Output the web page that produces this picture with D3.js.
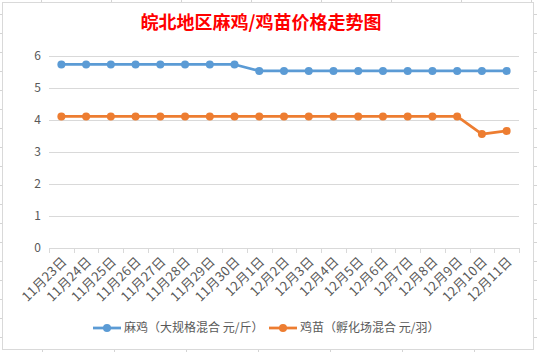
<!DOCTYPE html>
<html>
<head>
<meta charset="utf-8">
<script src="https://cdn.jsdelivr.net/npm/d3@7"></script>
<style>
  body { margin: 0; background: #fff; }
  text { font-family: "Noto Sans CJK SC", "Noto Sans", sans-serif; }
</style>
</head>
<body>
<div id="chart"></div>
<script>
// data
var dates = ["11月23日", "11月24日", "11月25日", "11月26日", "11月27日", "11月28日", "11月29日", "11月30日",
             "12月1日", "12月2日", "12月3日", "12月4日", "12月5日", "12月6日", "12月7日", "12月8日",
             "12月9日", "12月10日", "12月11日"];
var maji = [5.72, 5.72, 5.72, 5.72, 5.72, 5.72, 5.72, 5.72,
            5.52, 5.52, 5.52, 5.52, 5.52, 5.52, 5.52, 5.52, 5.52, 5.52, 5.52];
var jimiao = [4.1, 4.1, 4.1, 4.1, 4.1, 4.1, 4.1, 4.1,
              4.1, 4.1, 4.1, 4.1, 4.1, 4.1, 4.1, 4.1, 4.1, 3.55, 3.65];
var yTicks = [0, 1, 2, 3, 4, 5, 6];
var seriesNames = ["麻鸡（大规格混合 元/斤）", "鸡苗（孵化场混合 元/羽）"];
var colors = ["#5b9bd5", "#ed7d31"];

var W = 537, H = 352;
var svg = d3.select("#chart").append("svg")
    .attr("width", W).attr("height", H);

// spreadsheet grid peeking round the chart
var grid = svg.append("g").attr("stroke", "#d4d4d4").attr("stroke-width", 1);
d3.range(0, 19).forEach(function(i) {
  var y = 14.5 + 19 * i;
  grid.append("line").attr("x1", 0).attr("x2", W).attr("y1", y).attr("y2", y);
});
d3.range(0, 8).forEach(function(i) {
  grid.append("line").attr("x1", 41.5 + 70 * i).attr("x2", 41.5 + 70 * i).attr("y1", 0).attr("y2", 10);
  grid.append("line").attr("x1", 42.5 + 72 * i).attr("x2", 42.5 + 72 * i).attr("y1", 340).attr("y2", H);
});

// chart area
svg.append("rect")
    .attr("x", 2.5).attr("y", 2.5)
    .attr("width", 531).attr("height", 347)
    .attr("fill", "#fff").attr("stroke", "#d9d9d9");

// title
svg.append("text")
    .attr("x", 261).attr("y", 29)
    .attr("text-anchor", "middle")
    .style("font-size", "18px").style("font-weight", "bold")
    .attr("fill", "#ff0000")
    .text("皖北地区麻鸡/鸡苗价格走势图");

var x = d3.scaleBand().domain(dates).range([49, 519]);
var y = d3.scaleLinear().domain([0, 6]).range([248, 55.5]);
var cx = function(d) { return x(d) + x.bandwidth() / 2; };

// gridlines + y labels
svg.append("g").selectAll("line")
   .data(yTicks.filter(function(d) { return d > 0; }))
   .enter().append("line")
   .attr("x1", 49).attr("x2", 519)
   .attr("y1", function(d) { return Math.round(y(d)) + 0.5; })
   .attr("y2", function(d) { return Math.round(y(d)) + 0.5; })
   .attr("stroke", "#d9d9d9");

svg.append("g").selectAll("text")
   .data(yTicks)
   .enter().append("text")
   .attr("x", 41).attr("y", function(d) { return y(d); })
   .attr("dy", "0.35em")
   .attr("text-anchor", "end")
   .style("font-size", "12px")
   .attr("fill", "#595959")
   .text(function(d) { return d; });

// x axis
var xa = svg.append("g").attr("stroke", "#d9d9d9");
xa.append("line").attr("x1", 49).attr("x2", 519).attr("y1", 248.5).attr("y2", 248.5);
xa.selectAll(".tk")
  .data(dates.concat([null]))
  .enter().append("line")
  .attr("class", "tk")
  .attr("x1", function(d) { return Math.round(d ? x(d) : 519) + 0.5; })
  .attr("x2", function(d) { return Math.round(d ? x(d) : 519) + 0.5; })
  .attr("y1", 248).attr("y2", 253);

svg.append("g").selectAll("text")
   .data(dates)
   .enter().append("text")
   .attr("transform", function(d) { return "translate(" + (cx(d) + 3) + ",259) rotate(-45)"; })
   .attr("text-anchor", "end")
   .attr("dy", "0.35em")
   .style("font-size", "13px")
   .style("letter-spacing", "0.3px")
   .attr("fill", "#595959")
   .text(function(d) { return d; });

// lines
var line = d3.line()
    .x(function(d, i) { return cx(dates[i]); })
    .y(function(d) { return y(d); });

[maji, jimiao].forEach(function(s, k) {
  var g = svg.append("g");
  g.append("path")
   .datum(s)
   .attr("d", line)
   .attr("fill", "none")
   .attr("stroke", colors[k])
   .attr("stroke-width", 2.75)
   .attr("stroke-linejoin", "round");
  g.selectAll("circle")
   .data(s)
   .enter().append("circle")
   .attr("cx", function(d, i) { return cx(dates[i]); })
   .attr("cy", function(d) { return y(d); })
   .attr("r", 4)
   .attr("fill", colors[k]);
});

// legend
var legX = [93, 269];
seriesNames.forEach(function(name, k) {
  var g = svg.append("g").attr("transform", "translate(" + legX[k] + ",328)");
  g.append("line").attr("x1", 0).attr("x2", 28).attr("y1", 0).attr("y2", 0)
   .attr("stroke", colors[k]).attr("stroke-width", 2.75);
  g.append("circle").attr("cx", 14).attr("cy", 0).attr("r", 4).attr("fill", colors[k]);
  g.append("text").attr("x", 31).attr("dy", "0.35em")
   .style("font-size", "12px").attr("fill", "#595959")
   .text(name);
});
</script>
</body>
</html>
